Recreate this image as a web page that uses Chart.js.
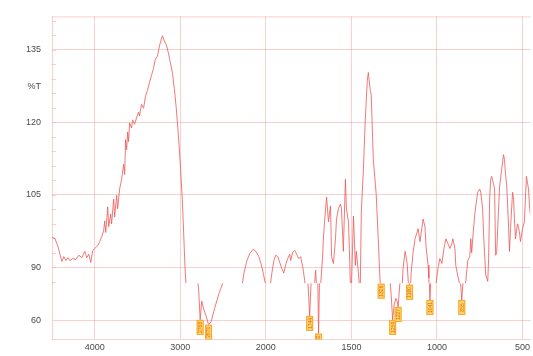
<!DOCTYPE html>
<html>
<head>
<meta charset="utf-8">
<script src="https://cdn.jsdelivr.net/npm/chart.js@4/dist/chart.umd.min.js"></script>
<style>
  html, body { margin: 0; padding: 0; background: #ffffff; overflow: hidden; }
  #wrap { width: 533px; height: 356px; }
  canvas { display: block; }
</style>
</head>
<body>
<div id="wrap"><canvas id="spectrum" width="533" height="356"></canvas></div>
<script>
// IR spectrum: wavenumber (cm-1) and transmittance (%T)
const wavenumbers = [
  4500, 4465, 4430, 4407, 4384, 4361, 4337, 4314, 4291, 4256, 4221, 4186, 4151, 4117, 4093, 4070, 4047, 4023, 4000,
  3965, 3942, 3919, 3896, 3884, 3872, 3849, 3837, 3814, 3803, 3779, 3768, 3744, 3733, 3709, 3686, 3663, 3651, 3640,
  3628, 3616, 3605, 3593, 3570, 3558, 3535, 3512, 3488, 3477, 3454, 3430, 3407, 3384, 3361, 3337, 3314, 3291, 3267,
  3244, 3221, 3209, 3186, 3163, 3140, 3116, 3093, 3070, 3047, 3023, 3000, 2977, 2965, 2954, 2942, 2930, 2880, 2800,
  2785, 2768, 2750, 2725, 2695, 2670, 2640, 2600, 2545, 2495, 2450, 2380, 2300, 2279, 2256, 2221, 2186, 2151, 2128,
  2105, 2081, 2058, 2035, 2012, 1994, 1977, 1965, 1953, 1942, 1930, 1919, 1907, 1895, 1884, 1872, 1860, 1855, 1843,
  1831, 1820, 1808, 1797, 1785, 1773, 1765, 1756, 1744, 1734, 1718, 1709, 1702, 1697, 1692, 1686, 1680, 1669, 1663,
  1651, 1645, 1634, 1622, 1616, 1605, 1593, 1587, 1576, 1564, 1558, 1547, 1541, 1535, 1529, 1517, 1512, 1506, 1500,
  1488, 1477, 1471, 1459, 1453, 1448, 1442, 1430, 1419, 1407, 1401, 1390, 1384, 1372, 1360, 1355, 1343, 1337, 1331,
  1326, 1318, 1290, 1275, 1265, 1259, 1250, 1240, 1232, 1227, 1215, 1205, 1198, 1186, 1174, 1167, 1160, 1151, 1140,
  1128, 1110, 1099, 1081, 1070, 1064, 1052, 1047, 1041, 1035, 1012, 994, 983, 971, 959, 948, 936, 924, 913, 907,
  895, 890, 878, 866, 855, 845, 831, 820, 808, 802, 797, 791, 779, 773, 762, 750, 744, 733, 727, 715, 703, 698,
  692, 686, 680, 669, 663, 657, 651, 645, 634, 622, 611, 605, 599, 593, 587, 581, 576, 570, 558, 552, 547, 541,
  529, 518, 512, 500, 489, 483, 477, 465, 459, 454
];
const transmittance = [
  96.3, 95.9, 94.3, 92.7, 91.2, 92.2, 91.4, 92.0, 91.4, 91.8, 91.6, 92.5, 92.0, 93.3, 92.0, 92.7, 91.0, 93.5, 93.9,
  94.5, 95.3, 96.3, 97.6, 99.6, 97.2, 102.5, 98.4, 101.0, 99.0, 104.1, 100.4, 104.9, 102.1, 106.2, 108.2, 111.3, 109.2, 116.4,
  114.3, 118.0, 116.0, 119.9, 118.8, 120.5, 119.6, 120.9, 122.1, 121.3, 123.7, 122.9, 125.4, 126.6, 128.2, 129.7, 131.1, 133.1, 133.7,
  135.8, 137.2, 137.9, 136.8, 136.0, 134.4, 132.3, 130.3, 127.0, 122.9, 117.4, 111.3, 104.1, 99.0, 93.9, 88.8, 85.5, 84.2, 83.6,
  76.0, 60.5, 70.5, 66.0, 62.0, 57.9, 59.5, 66.5, 75.0, 81.0, 84.0, 83.5, 84.5, 86.2, 88.8, 91.4, 92.9, 93.7, 93.5,
  92.9, 92.2, 90.8, 89.2, 87.1, 85.8, 85.5, 88.8, 91.4, 92.5, 92.2, 91.0, 89.8, 88.8, 90.6, 91.8, 92.7, 91.4, 93.1,
  93.5, 92.7, 91.8, 92.2, 90.2, 87.3, 84.5, 83.8, 62.6, 84.0, 85.0, 89.4, 84.8, 83.8, 53.2, 84.0, 86.2, 91.8, 96.5,
  102.1, 104.5, 99.4, 102.7, 92.2, 90.8, 95.9, 100.0, 102.1, 103.1, 102.1, 93.3, 101.0, 108.2, 102.1, 99.4, 93.9, 86.5, 85.6,
  100.6, 90.4, 93.3, 88.8, 86.0, 86.4, 101.5, 110.2, 120.5, 128.7, 130.3, 126.6, 125.6, 112.3, 107.2, 105.1, 95.9, 90.8, 86.0,
  79.8, 84.0, 84.5, 83.0, 70.0, 60.5, 68.5, 72.0, 70.0, 67.4, 82.0, 85.0, 89.8, 93.3, 90.8, 86.5, 79.2, 88.8, 92.9,
  95.9, 98.0, 95.3, 100.0, 98.4, 94.5, 90.4, 87.8, 71.1, 84.0, 85.0, 89.8, 91.8, 90.8, 93.9, 95.9, 94.9, 93.9, 94.9, 95.9,
  93.9, 90.4, 88.2, 86.3, 71.1, 84.0, 87.3, 91.4, 92.2, 95.9, 93.0, 95.9, 101.0, 102.7, 105.5, 106.2, 105.5, 102.1, 96.5, 88.4, 87.1, 91.8,
  104.1, 108.2, 108.8, 107.2, 106.2, 92.5, 92.9, 98.0, 106.6, 110.2, 113.3, 112.3, 109.2, 107.2, 103.1, 98.0, 93.3, 98.0, 105.5, 104.1, 100.0, 95.9,
  99.0, 97.4, 95.3, 98.0, 99.4, 104.1, 108.8, 106.2, 102.7, 101.0
];

// Picked absorption bands (labelled in the lower strip)
const peakWavenumbers = [2768, 2670, 1744, 1692, 1326, 1259, 1227, 1160, 1041, 855];

// Axis ticks
const xTickWavenumbers = [4000, 3000, 2000, 1500, 1000, 500];
const yTicksMain = [90, 105, 120, 135];
const yTicksLower = [60];
const yAxisTitle = '%T';

// Above 2000 cm-1 the wavenumber axis is compressed by a factor of two
const toAxis = wn => (wn > 2000 ? 2000 + (wn - 2000) / 2 : wn);
const fromAxis = u => (u > 2000 ? 2000 + (u - 2000) * 2 : u);

const GRID = 'rgba(238, 150, 150, 0.45)';
const TRACE = 'rgba(236, 88, 88, 0.8)';
const TICK_FONT = { family: 'Liberation Sans, Arial, sans-serif', size: 9 };
const TICK_COLOR = '#4a4a4a';
const TITLE_VALUE = 127.5;

const points = wavenumbers.map((wn, i) => ({ x: toAxis(wn), y: transmittance[i] }));

// Each copy of the trace is clipped to its own vertical band
const bandClip = {
  id: 'bandClip',
  beforeDatasetDraw(chart, args) {
    const ys = chart.scales[args.meta.yAxisID];
    const a = chart.chartArea;
    const ctx = chart.ctx;
    ctx.save();
    ctx.beginPath();
    ctx.rect(a.left, ys.top, a.right - a.left, ys.bottom - ys.top);
    ctx.clip();
  },
  afterDatasetDraw(chart) {
    chart.ctx.restore();
  }
};

// Frame line on top and minor ticks on the %T axis
const frame = {
  id: 'frame',
  beforeDatasetsDraw(chart) {
    const { ctx, chartArea: a, scales } = chart;
    ctx.save();
    ctx.strokeStyle = GRID;
    ctx.lineWidth = 1;
    ctx.beginPath();
    ctx.moveTo(a.left, a.top + 0.5);
    ctx.lineTo(a.right, a.top + 0.5);
    const y = scales.y;
    for (let v = 87; v <= 141; v += 3) {
      const py = Math.round(y.getPixelForValue(v)) + 0.5;
      ctx.moveTo(a.left, py);
      ctx.lineTo(a.left + 4, py);
    }
    ctx.stroke();
    ctx.restore();
  }
};

// Yellow peak tags hanging from each picked band minimum
const peakLabels = {
  id: 'peakLabels',
  afterDatasetsDraw(chart) {
    const { ctx, chartArea: a, scales } = chart;
    const x = scales.x, y2 = scales.y2;
    ctx.save();
    ctx.beginPath();
    ctx.rect(a.left, y2.top, a.right - a.left, y2.bottom - y2.top);
    ctx.clip();
    const w = 7, h = 15;
    peakWavenumbers.forEach(wn => {
      const i = wavenumbers.indexOf(wn);
      const px = x.getPixelForValue(toAxis(wn));
      const py = y2.getPixelForValue(transmittance[i]);
      ctx.fillStyle = '#ffd466';
      ctx.strokeStyle = '#f5a830';
      ctx.lineWidth = 1;
      ctx.fillRect(px - w / 2, py, w, h);
      ctx.strokeRect(px - w / 2 + 0.5, py + 0.5, w - 1, h - 1);
      ctx.save();
      ctx.translate(px, py + h / 2);
      ctx.rotate(-Math.PI / 2);
      ctx.fillStyle = '#e06a10';
      ctx.font = '5px Liberation Sans, Arial, sans-serif';
      ctx.textAlign = 'center';
      ctx.textBaseline = 'middle';
      ctx.fillText(String(wn), 0, 0.5);
      ctx.restore();
    });
    ctx.restore();
  }
};

const lineStyle = {
  borderColor: TRACE,
  borderWidth: 1,
  pointRadius: 0,
  tension: 0,
  fill: false
};

new Chart(document.getElementById('spectrum'), {
  type: 'line',
  data: {
    datasets: [
      Object.assign({ data: points, yAxisID: 'y' }, lineStyle),
      Object.assign({ data: points, yAxisID: 'y2' }, lineStyle)
    ]
  },
  options: {
    responsive: false,
    animation: false,
    devicePixelRatio: 1,
    layout: { padding: { top: 15, left: 0, right: 0, bottom: 0 } },
    plugins: { legend: { display: false }, tooltip: { enabled: false } },
    scales: {
      x: {
        type: 'linear',
        reverse: true,
        min: toAxis(453),
        max: toAxis(4500),
        afterBuildTicks: s => { s.ticks = xTickWavenumbers.map(w => ({ value: toAxis(w) })); },
        afterFit: s => { s.height = 14; },
        ticks: {
          callback: v => String(fromAxis(v)),
          font: TICK_FONT,
          color: TICK_COLOR,
          padding: 3,
          maxRotation: 0,
          autoSkip: false
        },
        grid: { color: GRID, drawTicks: false },
        border: { color: GRID }
      },
      y: {
        type: 'linear',
        position: 'left',
        stack: 'spectrum',
        stackWeight: 270,
        weight: 1,
        min: 86.7,
        max: 141.9,
        afterBuildTicks: s => {
          s.ticks = yTicksMain.concat([TITLE_VALUE]).map(v => ({ value: v }));
        },
        afterFit: s => { s.width = 52; },
        ticks: {
          callback: v => (v === TITLE_VALUE ? yAxisTitle : String(v)),
          font: TICK_FONT,
          color: TICK_COLOR,
          padding: 11,
          autoSkip: false
        },
        grid: {
          drawTicks: false,
          color: c => (c.tick && c.tick.value === TITLE_VALUE ? 'rgba(0,0,0,0)' : GRID)
        },
        border: { color: GRID }
      },
      y2: {
        type: 'linear',
        position: 'left',
        stack: 'spectrum',
        stackWeight: 57,
        weight: 0,
        min: 50,
        max: 80,
        afterBuildTicks: s => { s.ticks = yTicksLower.map(v => ({ value: v })); },
        afterFit: s => { s.width = 52; },
        ticks: {
          callback: v => String(v),
          font: TICK_FONT,
          color: TICK_COLOR,
          padding: 11,
          autoSkip: false
        },
        grid: { drawTicks: false, color: GRID },
        border: { color: GRID }
      }
    }
  },
  plugins: [frame, bandClip, peakLabels]
});
</script>
</body>
</html>
